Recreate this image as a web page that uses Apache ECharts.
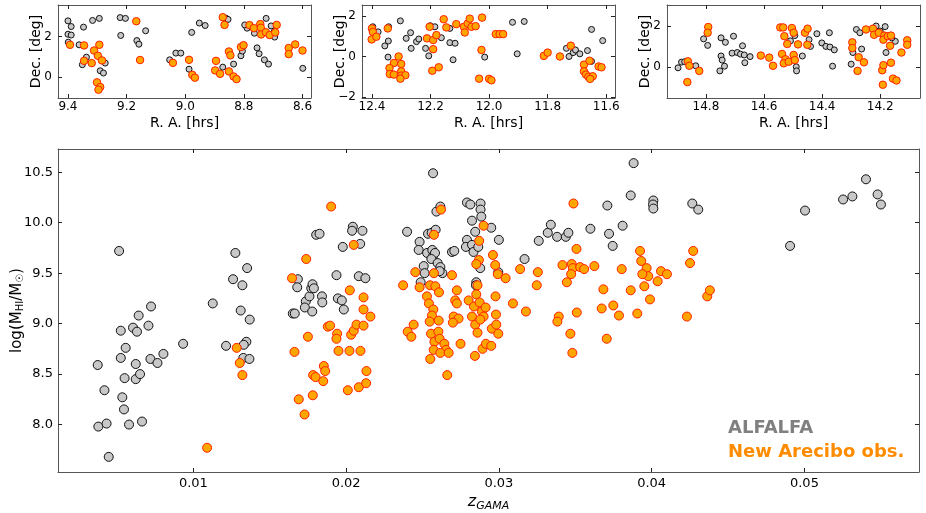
<!DOCTYPE html>
<html><head><meta charset="utf-8">
<script src="https://cdn.jsdelivr.net/npm/echarts@6/dist/echarts.min.js"></script>
<style>html,body{margin:0;padding:0;background:#fff}#c{width:926px;height:513px}</style>
</head><body><div id="c"></div>
<script>
// ---- Top panel 1 (R.A. ~9h) ----
const p1Alfalfa = [[9.400,2.77],[9.389,2.49],[9.400,2.11],[9.389,2.07],[9.399,1.72],[9.362,1.59],[9.347,2.46],[9.316,2.79],[9.293,2.89],[9.351,0.61],[9.337,0.98],[9.290,0.31],[9.279,0.20],[9.273,0.69],[9.222,2.93],[9.204,2.89],[9.220,2.05],[9.165,1.80],[9.158,1.62],[9.135,2.28],[9.053,0.85],[9.032,1.18],[9.015,1.18],[8.987,0.39],[8.952,2.66],[8.932,2.54],[8.978,2.20],[8.872,0.49],[8.861,2.90],[8.854,2.84],[8.835,0.64],[8.810,1.05],[8.805,1.28],[8.783,2.49],[8.764,2.16],[8.755,1.44],[8.748,1.15],[8.730,0.85],[8.716,0.64],[8.724,2.89],[8.707,2.52],[8.695,1.97],[8.697,2.23],[8.599,0.43],[8.789,2.41],[8.797,2.57]];
const p1Arecibo = [[9.393,1.59],[9.345,1.56],[9.293,1.59],[9.311,1.31],[9.345,0.80],[9.319,0.69],[9.298,1.05],[9.284,0.82],[9.301,-0.26],[9.290,-0.49],[9.296,-0.62],[9.167,2.75],[9.154,0.84],[9.042,0.70],[8.987,0.85],[8.976,0.11],[8.967,-0.03],[8.895,0.80],[8.898,0.33],[8.881,0.16],[8.872,2.95],[8.866,2.57],[8.851,1.26],[8.846,1.07],[8.851,0.28],[8.835,0.03],[8.825,-0.10],[8.810,1.48],[8.801,1.57],[8.781,2.56],[8.766,2.41],[8.744,2.61],[8.742,2.43],[8.741,2.10],[8.725,2.21],[8.712,2.07],[8.693,2.20],[8.688,2.57],[8.647,1.43],[8.647,1.13],[8.625,1.61],[8.600,1.31]];
// ---- Top panel 2 (R.A. ~12h) ----
const p2Alfalfa = [[12.397,1.46],[12.379,1.21],[12.343,1.46],[12.356,0.52],[12.344,0.76],[12.345,-0.03],[12.303,1.75],[12.283,0.89],[12.268,1.17],[12.266,0.40],[12.248,0.73],[12.240,0.86],[12.217,0.40],[12.206,0.03],[12.201,1.51],[12.185,1.46],[12.163,0.92],[12.134,1.38],[12.134,0.68],[12.116,0.65],[12.123,-0.16],[12.015,-0.03],[11.920,1.68],[11.904,0.13],[11.880,1.72],[11.736,0.40],[11.727,0.00],[11.713,0.19],[11.705,0.32],[11.690,0.13],[11.664,0.29],[11.650,1.33],[11.650,-0.24],[11.612,0.78]];
const p2Arecibo = [[12.400,1.38],[12.397,1.21],[12.401,0.84],[12.385,0.97],[12.346,1.38],[12.309,0.00],[12.325,-0.32],[12.340,-0.57],[12.339,-0.86],[12.325,-0.89],[12.300,-0.37],[12.300,-0.73],[12.300,-0.94],[12.286,-0.92],[12.303,-1.09],[12.203,1.46],[12.212,0.89],[12.191,0.81],[12.180,1.05],[12.191,0.36],[12.194,-0.70],[12.172,-0.53],[12.155,1.83],[12.146,1.43],[12.112,1.59],[12.086,1.46],[12.083,1.18],[12.073,1.62],[12.066,1.86],[12.060,1.46],[12.046,1.49],[12.024,1.91],[12.026,0.32],[12.034,-1.09],[12.000,-1.10],[11.992,-1.17],[11.977,1.10],[11.964,1.10],[11.952,1.10],[11.813,0.03],[11.800,0.19],[11.758,0.00],[11.721,0.53],[11.676,-0.40],[11.676,-0.73],[11.669,-0.89],[11.661,-1.00],[11.657,-0.21],[11.646,-0.97],[11.655,-1.10],[11.626,-0.49],[11.616,-0.53]];
// ---- Top panel 3 (R.A. ~14.5h) ----
const p3Alfalfa = [[14.896,-0.05],[14.884,0.23],[14.873,0.25],[14.835,0.05],[14.808,1.37],[14.794,1.05],[14.748,1.42],[14.733,1.20],[14.748,0.53],[14.744,0.33],[14.752,-0.20],[14.736,0.03],[14.710,0.67],[14.705,1.50],[14.692,0.70],[14.681,0.62],[14.674,1.03],[14.668,0.58],[14.666,0.20],[14.648,0.50],[14.509,1.27],[14.494,1.53],[14.489,0.00],[14.488,-0.20],[14.468,0.53],[14.445,1.33],[14.440,1.00],[14.418,1.62],[14.401,1.17],[14.387,1.00],[14.375,1.67],[14.373,0.97],[14.358,0.83],[14.364,0.03],[14.300,0.13],[14.294,0.70],[14.282,1.83],[14.270,1.67],[14.264,0.87],[14.214,2.00],[14.200,1.75],[14.183,1.97],[14.180,0.70],[14.148,1.25],[14.160,1.42]];
const p3Arecibo = [[14.862,0.27],[14.857,0.05],[14.864,-0.75],[14.823,-0.20],[14.792,1.95],[14.794,1.67],[14.611,0.55],[14.582,0.45],[14.569,0.05],[14.544,1.93],[14.534,1.93],[14.530,1.50],[14.538,0.63],[14.526,0.37],[14.532,0.17],[14.520,1.12],[14.515,0.25],[14.504,1.90],[14.498,1.67],[14.498,0.58],[14.494,0.33],[14.483,1.10],[14.459,1.67],[14.450,1.87],[14.451,1.08],[14.296,1.20],[14.296,0.92],[14.274,0.47],[14.278,-0.20],[14.256,0.22],[14.249,1.83],[14.225,1.87],[14.221,1.57],[14.205,1.67],[14.193,-0.17],[14.189,0.08],[14.191,-0.88],[14.186,1.53],[14.189,1.33],[14.174,1.50],[14.163,1.53],[14.166,1.03],[14.163,0.20],[14.156,-0.58],[14.144,-0.67],[14.127,0.70],[14.107,1.30],[14.107,1.08]];
// ---- Main panel: z_GAMA vs log(M_HI/M_sun) ----
const mainAlfalfa = [[0.00374,8.59],[0.00418,8.34],[0.00378,7.98],[0.00432,8.01],[0.00446,7.68],[0.00514,9.72],[0.00525,8.93],[0.00525,8.66],[0.00557,8.76],[0.0055,8.46],[0.00535,8.27],[0.00546,8.15],[0.00579,8.00],[0.00605,8.96],[0.00631,8.92],[0.00642,9.08],[0.00623,8.60],[0.00623,8.45],[0.00651,8.50],[0.00664,8.03],[0.00706,8.98],[0.00723,9.17],[0.00719,8.65],[0.00765,8.61],[0.00804,8.70],[0.00933,8.80],[0.01127,9.20],[0.01214,8.78],[0.0126,9.44],[0.01275,9.70],[0.01321,9.38],[0.01352,9.55],[0.0131,9.13],[0.01369,9.04],[0.01347,8.82],[0.0133,8.79],[0.01327,8.66],[0.01367,8.65],[0.01684,9.44],[0.0168,9.36],[0.01651,9.10],[0.01664,9.10],[0.01736,9.22],[0.0173,9.16],[0.0176,9.27],[0.01772,9.35],[0.0178,9.39],[0.01789,9.35],[0.01778,9.12],[0.01804,9.88],[0.01826,9.89],[0.01842,9.27],[0.01844,9.21],[0.01937,9.48],[0.01946,9.25],[0.01972,9.23],[0.01985,9.14],[0.01978,9.76],[0.02044,9.96],[0.02039,9.92],[0.02107,9.92],[0.02092,9.79],[0.02083,9.47],[0.02126,9.45],[0.02399,9.91],[0.02481,9.81],[0.02475,9.73],[0.02536,9.89],[0.0256,9.90],[0.02569,10.49],[0.02586,9.93],[0.02591,10.11],[0.02617,10.16],[0.0253,9.70],[0.02564,9.73],[0.02569,9.67],[0.02582,9.70],[0.02508,9.57],[0.02514,9.50],[0.02558,9.64],[0.02599,9.60],[0.02617,9.56],[0.0263,9.50],[0.02612,9.52],[0.02488,9.41],[0.02693,9.71],[0.02708,9.72],[0.02791,10.20],[0.02813,10.18],[0.0288,10.19],[0.0288,10.13],[0.02885,10.06],[0.02824,10.02],[0.02845,9.91],[0.02791,9.83],[0.02784,9.76],[0.02824,9.78],[0.02834,9.71],[0.02865,9.76],[0.0295,9.95],[0.03,9.83],[0.02878,9.55],[0.02852,9.41],[0.0285,9.38],[0.02996,9.51],[0.03168,9.64],[0.03261,9.82],[0.0332,9.90],[0.0334,9.98],[0.03381,9.86],[0.03438,9.86],[0.03455,9.90],[0.03599,9.94],[0.0371,10.17],[0.03721,9.89],[0.03745,9.77],[0.0381,9.97],[0.03863,10.27],[0.03882,10.59],[0.04011,10.22],[0.04009,10.18],[0.04011,10.14],[0.04266,10.19],[0.04305,10.13],[0.04906,9.77],[0.05004,10.12],[0.05253,10.23],[0.05314,10.26],[0.05403,10.43],[0.05479,10.28],[0.05501,10.18]];
const mainArecibo = [[0.0109,7.77],[0.01284,8.76],[0.01304,8.61],[0.01321,8.49],[0.01646,9.45],[0.01662,8.72],[0.0169,8.25],[0.01739,9.64],[0.0175,8.87],[0.01728,8.10],[0.01784,8.49],[0.018,8.47],[0.0185,8.43],[0.01854,8.58],[0.01863,8.53],[0.01782,8.29],[0.0188,8.97],[0.01895,8.98],[0.01902,10.16],[0.01941,8.90],[0.01937,8.85],[0.0195,8.73],[0.02024,9.33],[0.02022,8.73],[0.0205,9.78],[0.02033,8.89],[0.0205,8.93],[0.02068,8.99],[0.02011,8.34],[0.02083,8.37],[0.02094,8.73],[0.02114,9.26],[0.02114,9.14],[0.02114,8.98],[0.02133,8.53],[0.02131,8.41],[0.02159,9.07],[0.02373,9.38],[0.02453,9.51],[0.02481,9.36],[0.02575,9.88],[0.02575,9.50],[0.02621,10.13],[0.02529,9.27],[0.02542,9.20],[0.02549,9.38],[0.02584,9.37],[0.02608,9.31],[0.02571,9.14],[0.02562,9.08],[0.02547,9.02],[0.02606,9.03],[0.02556,8.90],[0.02604,8.92],[0.02578,8.82],[0.02612,8.85],[0.02573,8.74],[0.02643,8.80],[0.02654,8.74],[0.02617,8.71],[0.02671,8.71],[0.02551,8.65],[0.02662,8.49],[0.02403,8.92],[0.02427,8.87],[0.02442,8.99],[0.02693,9.48],[0.02725,9.33],[0.02714,9.23],[0.02725,9.20],[0.02704,9.07],[0.02736,9.05],[0.02699,9.01],[0.02749,8.80],[0.02802,9.23],[0.02852,9.29],[0.0286,9.38],[0.02869,9.63],[0.02871,9.82],[0.029,9.97],[0.02852,9.59],[0.02837,9.17],[0.02824,9.07],[0.02874,9.21],[0.02889,9.12],[0.02913,9.16],[0.029,9.07],[0.02845,8.99],[0.02878,9.04],[0.0286,8.91],[0.02843,8.68],[0.02893,8.75],[0.02915,8.80],[0.0295,8.78],[0.02954,8.95],[0.02983,8.99],[0.02996,8.90],[0.02981,9.09],[0.02978,9.27],[0.02961,9.68],[0.02976,9.58],[0.02993,9.49],[0.03044,9.45],[0.03092,9.20],[0.03177,9.12],[0.03139,9.54],[0.03255,9.51],[0.03248,9.38],[0.03392,9.07],[0.03383,9.02],[0.03416,9.58],[0.03477,9.59],[0.03484,9.55],[0.03473,9.49],[0.03445,9.41],[0.03468,8.90],[0.03481,8.71],[0.03508,9.74],[0.03488,10.19],[0.03532,9.56],[0.03558,9.54],[0.03625,9.57],[0.0351,9.11],[0.03684,9.34],[0.03673,9.15],[0.03706,8.85],[0.03749,9.18],[0.03786,9.08],[0.03804,9.54],[0.03863,9.33],[0.03906,9.10],[0.03924,9.72],[0.03932,9.62],[0.03967,9.55],[0.03978,9.47],[0.03939,9.49],[0.03952,9.37],[0.03989,9.24],[0.04039,9.42],[0.04061,9.52],[0.041,9.49],[0.04231,9.07],[0.04251,9.60],[0.04272,9.72],[0.04364,9.27],[0.04381,9.33]];
// ---- tick labels ----
const p1XTicks = [9.4, 9.2, 9.0, 8.8, 8.6];
const p2XTicks = [12.4, 12.2, 12.0, 11.8, 11.6];
const p3XTicks = [14.8, 14.6, 14.4, 14.2];
const p1YTicks = [0, 2];
const p2YTicks = [-2, 0, 2];
const p3YTicks = [0, 2];
const mainXTicks = [0.01, 0.02, 0.03, 0.04, 0.05];
const mainYTicks = [8.0, 8.5, 9.0, 9.5, 10.0, 10.5];
const legendLabels = ['ALFALFA', 'New Arecibo obs.'];

const FONT = 'DejaVu Sans';
const FRAME = '#555';
const grids = [
  {left: 58, top: 5, width: 253, height: 93},
  {left: 362, top: 5, width: 253, height: 93},
  {left: 667, top: 5, width: 253, height: 93},
  {left: 58, top: 149, width: 861, height: 323}
].map(g => Object.assign(g, {containLabel: false, outerBoundsMode: 'none'}));
const xRanges = [[8.571, 9.434], [11.570, 12.434], [14.063, 14.934], [0.00114, 0.0575]];
const yRanges = [[-1.03, 3.55], [-2.04, 2.53], [-1.53, 3.03], [7.53, 10.73]];
const xTicks = [p1XTicks, p2XTicks, p3XTicks, mainXTicks];
const yTicks = [p1YTicks, p2YTicks, p3YTicks, mainYTicks];
const xFmt = [v => v.toFixed(1), v => v.toFixed(1), v => v.toFixed(1), v => String(+v.toFixed(2))];
const yFmt = [v => String(v).replace('-', '\u2212'), v => String(v).replace('-', '\u2212'), v => String(v).replace('-', '\u2212'), v => v.toFixed(1)];

const xAxes = [], yAxes = [];
for (let i = 0; i < 4; i++) {
  const isMain = i === 3;
  const fs = isMain ? 13 : 12;
  const common = (pos, ticks) => ({
    nameMoveOverlap: false,
    axisLine: {show: true, onZero: false, lineStyle: {color: FRAME, width: 1}},
    axisTick: {show: true, inside: true, length: 4, customValues: ticks, lineStyle: {color: '#222'}},
    splitLine: {show: false}
  });
  xAxes.push(Object.assign({
    type: 'value', gridIndex: i, position: 'bottom', min: xRanges[i][0], max: xRanges[i][1], inverse: !isMain,
    axisLabel: {show: true, customValues: xTicks[i], formatter: xFmt[i], fontFamily: FONT, fontSize: fs, color: '#000', margin: isMain ? 5 : 3},
    name: isMain ? '{i|z}{s|GAMA}' : 'R. A. [hrs]', nameLocation: 'middle', nameGap: isMain ? 20 : 18,
    nameTextStyle: isMain ? {rich: {i: {fontFamily: FONT, fontStyle: 'italic', fontSize: 16, color: '#000'}, s: {fontFamily: FONT, fontStyle: 'italic', fontSize: 11, color: '#000', padding: [9, 0, 0, 0]}}} : {fontFamily: FONT, fontSize: 14, color: '#000'}
  }, common('bottom', xTicks[i])));
  xAxes.push(Object.assign({
    type: 'value', gridIndex: i, position: 'top', min: xRanges[i][0], max: xRanges[i][1], inverse: !isMain,
    axisLabel: {show: false}
  }, common('top', xTicks[i])));
  yAxes.push(Object.assign({
    type: 'value', gridIndex: i, position: 'left', min: yRanges[i][0], max: yRanges[i][1],
    axisLabel: {show: true, customValues: yTicks[i], formatter: yFmt[i], fontFamily: FONT, fontSize: fs, color: '#000', margin: isMain ? 5 : 6},
    name: isMain ? 'log(M{s|HI}/M{s|\u2609})' : 'Dec. [deg]', nameLocation: 'middle', nameRotate: 90, nameGap: isMain ? 33 : 15,
    nameTextStyle: isMain ? {fontFamily: FONT, fontSize: 15, color: '#000', rich: {s: {fontFamily: FONT, fontSize: 10, color: '#000', verticalAlign: 'bottom', lineHeight: 14}}} : {fontFamily: FONT, fontSize: 14, color: '#000'}
  }, common('left', yTicks[i])));
  yAxes.push(Object.assign({
    type: 'value', gridIndex: i, position: 'right', min: yRanges[i][0], max: yRanges[i][1],
    axisLabel: {show: false}
  }, common('right', yTicks[i])));
}

const datasets = [[p1Alfalfa, p1Arecibo], [p2Alfalfa, p2Arecibo], [p3Alfalfa, p3Arecibo], [mainAlfalfa, mainArecibo]];
const series = [];
datasets.forEach((pair, i) => {
  const isMain = i === 3;
  series.push({
    type: 'scatter', xAxisIndex: 2 * i, yAxisIndex: 2 * i, data: pair[0], symbol: 'circle',
    symbolSize: isMain ? 9 : 6, silent: true, animation: false,
    itemStyle: {color: '#c8c8c8', borderColor: '#111', borderWidth: 1, opacity: 1}
  });
  series.push({
    type: 'scatter', xAxisIndex: 2 * i, yAxisIndex: 2 * i, data: pair[1], symbol: 'circle',
    symbolSize: isMain ? 9 : 7.5, silent: true, animation: false,
    itemStyle: {color: '#ffa500', borderColor: '#ff2000', borderWidth: 1, opacity: 1}
  });
});

const chart = echarts.init(document.getElementById('c'), null, {renderer: 'canvas'});
chart.setOption({
  animation: false,
  backgroundColor: '#fff',
  grid: grids,
  xAxis: xAxes,
  yAxis: yAxes,
  series: series,
  graphic: [
    {type: 'text', left: 728, top: 419, style: {text: legendLabels[0], fontFamily: FONT, fontWeight: 'bold', fontSize: 18, fill: '#808080'}},
    {type: 'text', left: 728, top: 443, style: {text: legendLabels[1], fontFamily: FONT, fontWeight: 'bold', fontSize: 18, fill: '#ff8c00'}}
  ]
});
</script>
</body></html>
